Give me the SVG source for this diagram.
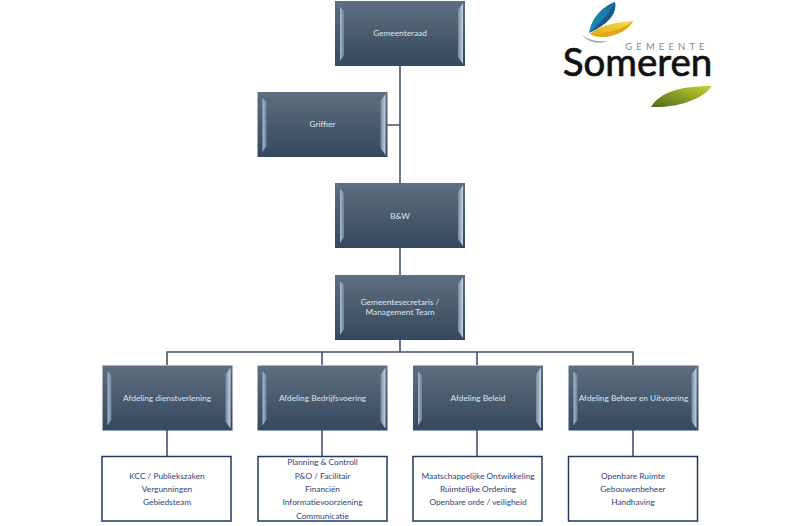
<svg xmlns="http://www.w3.org/2000/svg" width="800" height="526" viewBox="0 0 800 526">
<style>
text{font-family:Lato,"Liberation Sans",sans-serif;text-anchor:middle}
.t{font-size:8.3px;fill:#dfe5ec}
.l{font-size:8.3px;fill:#2a4478}
.c{fill:none;stroke:#44546a;stroke-width:1.6}
.b{fill:#fff;stroke:#203864;stroke-width:1.5}
</style>
<defs>
<linearGradient id="g" x1="0" y1="0" x2="0" y2="1"><stop offset="0" stop-color="#5f6e82"/><stop offset="1" stop-color="#34485f"/></linearGradient>
<linearGradient id="ll" x1="0" y1="0" x2="1" y2="0"><stop offset="0" stop-color="#a9bace"/><stop offset="1" stop-color="#6b7f97"/></linearGradient>
<linearGradient id="lr" x1="0" y1="0" x2="1" y2="0"><stop offset="0" stop-color="#76899f"/><stop offset="1" stop-color="#c4d3e2"/></linearGradient>
<linearGradient id="a" x1="0" y1="1" x2="1" y2="0"><stop offset="0" stop-color="#1a8fc0"/><stop offset="1" stop-color="#1c6c9c"/></linearGradient>
<linearGradient id="y" x1="0" y1="1" x2="1" y2="0"><stop offset="0" stop-color="#e0a817"/><stop offset="1" stop-color="#f3e04a"/></linearGradient>
<linearGradient id="o" x1="0" y1="1" x2="1" y2="0"><stop offset="0" stop-color="#4b6a1c"/><stop offset="1" stop-color="#c7d22e"/></linearGradient>
<g id="box">
<rect width="130" height="65" fill="url(#g)"/>
<path d="M5 6L9 10V54L5 60Z" fill="url(#ll)"/>
<path d="M123 9L128 2V63L123 56Z" fill="url(#lr)"/>
</g>
</defs>
<g id="connectors">
<path class="c" d="M400 65V275M387 125H400M400 340V352M167 365V352H633V365M322 352V365M477 352V365"/>
<path class="c" d="M167 430V456M322 430V456M477 430V456M633 430V456"/>
</g>
<g id="gemeenteraad"><use href="#box" x="335" y="1"/><text class="t" x="400" y="36">Gemeenteraad</text></g>
<g id="griffier"><use href="#box" x="257.500" y="92"/><text class="t" x="322.500" y="127">Griffier</text></g>
<g id="bw"><use href="#box" x="335" y="183"/><text class="t" x="400" y="219">B&amp;W</text></g>
<g id="secretaris"><use href="#box" x="335" y="275"/><text class="t" x="400" y="305">Gemeentesecretaris  /</text><text class="t" x="400" y="314.500">Management Team</text></g>
<g id="dienstverlening"><use href="#box" x="102.500" y="365.500"/><text class="t" x="167" y="400.500">Afdeling dienstverlening</text></g>
<g id="bedrijfsvoering"><use href="#box" x="257.500" y="365.500"/><text class="t" x="322.500" y="400.500">Afdeling Bedrijfsvoering</text></g>
<g id="beleid"><use href="#box" x="413" y="365.500"/><text class="t" x="478" y="400.500">Afdeling Beleid</text></g>
<g id="beheer"><use href="#box" x="568.500" y="365.500"/><text class="t" x="633.500" y="400.500">Afdeling Beheer en Uitvoering</text></g>
<g id="list1"><rect class="b" x="102" y="456.500" width="129" height="64.500"/><text class="l" x="167" y="478.500">KCC / Publiekszaken</text><text class="l" x="167" y="491.500">Vergunningen</text><text class="l" x="167" y="505">Gebiedsteam</text></g>
<g id="list2"><rect class="b" x="258" y="456.500" width="129" height="64.500"/><text class="l" x="322.500" y="465">Planning &amp; Controll</text><text class="l" x="322.500" y="478.500">P&amp;O / Facilitair</text><text class="l" x="322.500" y="491.500">Financiën</text><text class="l" x="322.500" y="505">Informatievoorziening</text><text class="l" x="322.500" y="518.500">Communicatie</text></g>
<g id="list3"><rect class="b" x="413" y="456.500" width="129" height="64.500"/><text class="l" x="478" y="478.500">Maatschappelijke Ontwikkeling</text><text class="l" x="478" y="491.500">Ruimtelijke Ordening</text><text class="l" x="478" y="505">Openbare orde / veiligheid</text></g>
<g id="list4"><rect class="b" x="568.500" y="456.500" width="129" height="64.500"/><text class="l" x="633" y="478.500">Openbare Ruimte</text><text class="l" x="633" y="491.500">Gebouwenbeheer</text><text class="l" x="633" y="505">Handhaving</text></g>
<g id="logo">
<path d="M589 33C591 18 603 6 615 2C617 14 608 24 589 33Z" fill="url(#a)"/>
<path d="M589 33C600 22 610 14 615 2C617 14 608 24 589 33Z" fill="#175a85"/>
<path d="M590 34C598 26 615 22 633 21C628 32 605 42 590 34Z" fill="url(#y)"/>
<path d="M590 34C605 34 622 30 633 21C628 32 605 42 590 34Z" fill="#e0a814"/>
<path d="M582 35C590 41 600 42 608 41C598 45 588 42 582 35Z" fill="#a8a8a8"/>
<text x="667" y="50" style="font-size:9.500px;letter-spacing:4.100px;fill:#8a8a8a">GEMEENTE</text>
<text x="637.500" y="76" style="font-size:38.500px;fill:#111;stroke:#111;stroke-width:.7">Someren</text>
<path d="M651 107C660 92 680 86 712 86C704 98 680 108 651 107Z" fill="url(#o)"/>
</g>
</svg>
